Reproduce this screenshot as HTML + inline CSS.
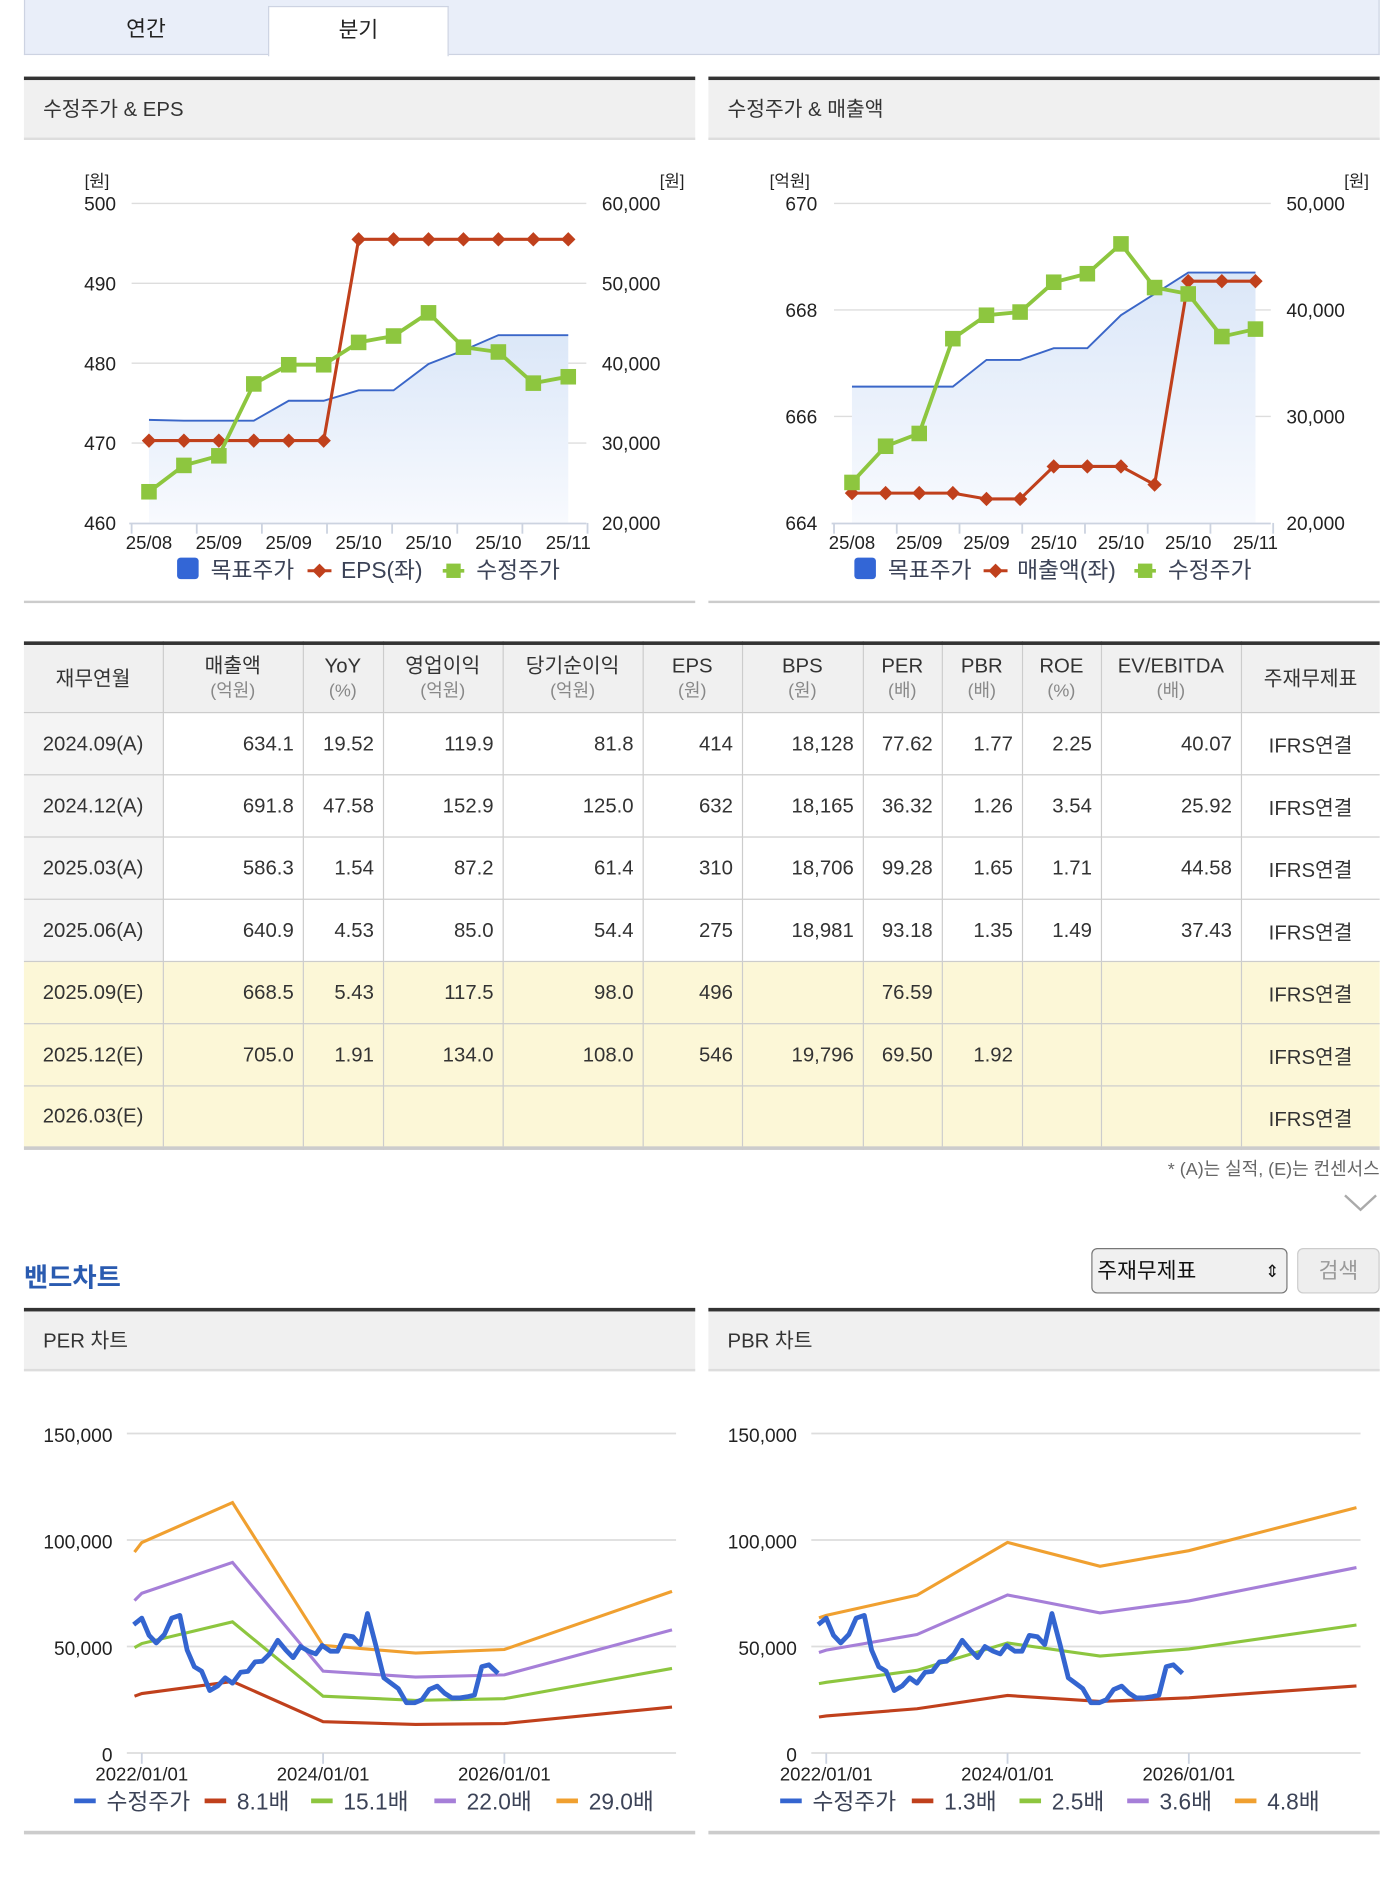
<!DOCTYPE html>
<html><head><meta charset="utf-8">
<style>
*{box-sizing:border-box;margin:0;padding:0}
html,body{width:1400px;height:1880px;overflow:hidden;background:#fff}
body{font-family:"Liberation Sans","Noto Sans CJK KR",sans-serif;color:#333}
#wrap{position:absolute;left:0;top:0;width:1170px;height:1571px;transform-origin:0 0;transform:scale(1.1966,1.1966)}
.abs{position:absolute}
.tabbar{left:20px;top:0;width:1133px;height:46px;background:#e9eef9;border:1px solid #cdd3e2;border-top:none}
.tab{top:5px;height:41px;font-size:18px;text-align:center;line-height:38px;color:#222}
.panel-top{height:3px;background:#333}
.panel-head{height:50px;background:#f0f0f0;border-bottom:2px solid #ddd;font-size:17px;line-height:50px;padding-left:16px;color:#333}
table{border-collapse:collapse;position:absolute;left:20px;top:536px;width:1133px;table-layout:fixed;border-top:3px solid #333;border-bottom:3px solid #ccc}
th,td{border:1px solid #ccc;font-size:17px;font-weight:normal;height:52px}
th{background:#f0f0f0;height:58px;line-height:21px;color:#333}
th span{display:block;font-size:15px;color:#888}
tr th:first-child,tr td:first-child{border-left:none}
tr th:last-child,tr td:last-child{border-right:none}
td{text-align:right;padding-right:7px;color:#333}
td.d{text-align:center;padding:0;background:#f4f4f4}
td.f{text-align:center;padding:0}
tr.e td{background:#fcf7d7}
</style></head><body>
<div id="wrap">
<div class="abs tabbar"></div>
<div class="abs tab" style="left:20px;width:204px">연간</div>
<div class="abs tab" style="left:224px;width:151px;background:#fff;border:1px solid #cdd3e2;border-bottom:none;height:42px">분기</div>

<div class="abs panel-top" style="left:20px;top:64px;width:561px"></div>
<div class="abs panel-head" style="left:20px;top:67px;width:561px">수정주가 &amp; EPS</div>
<div class="abs" style="left:20px;top:502px;width:561px;height:2px;background:#ccc"></div>
<div class="abs panel-top" style="left:592px;top:64px;width:561px"></div>
<div class="abs panel-head" style="left:592px;top:67px;width:561px">수정주가 &amp; 매출액</div>
<div class="abs" style="left:592px;top:502px;width:561px;height:2px;background:#ccc"></div>

<table>
<colgroup><col style="width:116px"><col style="width:117px"><col style="width:67px"><col style="width:100px"><col style="width:117px"><col style="width:83px"><col style="width:101px"><col style="width:66px"><col style="width:67px"><col style="width:66px"><col style="width:117px"><col style="width:116px"></colgroup>
<tr><th>재무연월</th><th>매출액<span>(억원)</span></th><th>YoY<span>(%)</span></th><th>영업이익<span>(억원)</span></th><th>당기순이익<span>(억원)</span></th><th>EPS<span>(원)</span></th><th>BPS<span>(원)</span></th><th>PER<span>(배)</span></th><th>PBR<span>(배)</span></th><th>ROE<span>(%)</span></th><th>EV/EBITDA<span>(배)</span></th><th>주재무제표</th></tr>
<tr><td class="d">2024.09(A)</td><td>634.1</td><td>19.52</td><td>119.9</td><td>81.8</td><td>414</td><td>18,128</td><td>77.62</td><td>1.77</td><td>2.25</td><td>40.07</td><td class="f">IFRS연결</td></tr>
<tr><td class="d">2024.12(A)</td><td>691.8</td><td>47.58</td><td>152.9</td><td>125.0</td><td>632</td><td>18,165</td><td>36.32</td><td>1.26</td><td>3.54</td><td>25.92</td><td class="f">IFRS연결</td></tr>
<tr><td class="d">2025.03(A)</td><td>586.3</td><td>1.54</td><td>87.2</td><td>61.4</td><td>310</td><td>18,706</td><td>99.28</td><td>1.65</td><td>1.71</td><td>44.58</td><td class="f">IFRS연결</td></tr>
<tr><td class="d">2025.06(A)</td><td>640.9</td><td>4.53</td><td>85.0</td><td>54.4</td><td>275</td><td>18,981</td><td>93.18</td><td>1.35</td><td>1.49</td><td>37.43</td><td class="f">IFRS연결</td></tr>
<tr class="e"><td class="d">2025.09(E)</td><td>668.5</td><td>5.43</td><td>117.5</td><td>98.0</td><td>496</td><td></td><td>76.59</td><td></td><td></td><td></td><td class="f">IFRS연결</td></tr>
<tr class="e"><td class="d">2025.12(E)</td><td>705.0</td><td>1.91</td><td>134.0</td><td>108.0</td><td>546</td><td>19,796</td><td>69.50</td><td>1.92</td><td></td><td></td><td class="f">IFRS연결</td></tr>
<tr class="e"><td class="d">2026.03(E)</td><td></td><td></td><td></td><td></td><td></td><td></td><td></td><td></td><td></td><td></td><td class="f">IFRS연결</td></tr>
</table>
<div class="abs" style="right:17px;top:966px;font-size:15px;color:#666">* (A)는 실적, (E)는 컨센서스</div>
<svg class="abs" style="left:1122px;top:996px" width="30" height="18"><polyline points="2,3 15,15 28,3" fill="none" stroke="#aaa" stroke-width="2"/></svg>

<div class="abs" style="left:20px;top:1050px;font-size:22px;font-weight:bold;color:#2a5bb0">밴드차트</div>
<div class="abs" style="left:912px;top:1043px;width:164px;height:38px;border:1px solid #777;border-radius:5px;background:#f0f0f0;font-size:18px;line-height:36px;padding-left:4px;color:#111">주재무제표<span style="position:absolute;right:6px;top:0;font-size:14px">⇕</span></div>
<div class="abs" style="left:1084px;top:1043px;width:69px;height:38px;border:1px solid #ccc;border-radius:5px;background:#eee;font-size:18px;line-height:36px;text-align:center;color:#999">검색</div>

<div class="abs panel-top" style="left:20px;top:1093px;width:561px"></div>
<div class="abs panel-head" style="left:20px;top:1096px;width:561px">PER 차트</div>
<div class="abs" style="left:20px;top:1530px;width:561px;height:3px;background:#ccc"></div>
<div class="abs panel-top" style="left:592px;top:1093px;width:561px"></div>
<div class="abs panel-head" style="left:592px;top:1096px;width:561px">PBR 차트</div>
<div class="abs" style="left:592px;top:1530px;width:561px;height:3px;background:#ccc"></div>

<svg id="ov" class="abs" style="left:0;top:0" width="1170" height="1571">
<defs><linearGradient id="ag" x1="0" y1="0" x2="0" y2="1"><stop offset="0" stop-color="#dbe7f8"/><stop offset="1" stop-color="#f8fafe"/></linearGradient></defs>
</svg>
</div>
<script>
// ---- Chart 1: 수정주가 & EPS ----
const c1Labels = ['25/08','25/09','25/09','25/10','25/10','25/10','25/11'];
const c1Eps = [470.3,470.3,470.3,470.3,470.3,470.3,495.5,495.5,495.5,495.5,495.5,495.5,495.5];
const c1Price = [23900,27200,28400,37400,39800,39800,42600,43400,46300,42000,41400,37500,38300];
const c1Target = [32900,32800,32800,32800,35300,35300,36600,36600,39900,41600,43500,43500,43500];
const c1LeftTicks = [500,490,480,470,460];
const c1RightTicks = ['60,000','50,000','40,000','30,000','20,000'];
// ---- Chart 2: 수정주가 & 매출액 ----
const c2Labels = ['25/08','25/09','25/09','25/10','25/10','25/10','25/11'];
const c2Sales = [664.56,664.56,664.56,664.56,664.45,664.45,665.06,665.06,665.06,664.72,668.54,668.54,668.54];
const c2Price = [23800,27200,28400,37300,39500,39800,42600,43400,46200,42100,41500,37500,38200];
const c2Target = [32800,32800,32800,32800,35300,35300,36400,36400,39500,41500,43500,43500,43500];
const c2LeftTicks = [670,668,666,664];
const c2RightTicks = ['50,000','40,000','30,000','20,000'];
// ---- Band charts ----
const bandDates = [2021.92,2022.0,2023.0,2024.0,2025.02,2026.0,2027.85];
const per81 = [26700,27900,33600,14700,13400,13800,21600];
const per151 = [49500,51400,61600,26700,24700,25500,39700];
const per220 = [71600,75000,89500,38400,35700,36700,57800];
const per290 = [94300,98800,117600,50500,46900,48600,75900];
const pbr13 = [16900,17400,20800,27000,24200,25900,31500];
const pbr25 = [32600,33200,38800,51700,45500,48900,60100];
const pbr36 = [47200,48300,55600,74200,65800,71400,87100];
const pbr48 = [63500,64600,74100,98900,87700,95000,115200];
const priceDates = [2021.91,2022.00,2022.08,2022.16,2022.25,2022.33,2022.42,2022.50,2022.58,2022.66,2022.75,2022.84,2022.92,2023.00,2023.09,2023.17,2023.25,2023.33,2023.41,2023.50,2023.59,2023.67,2023.75,2023.84,2023.92,2023.99,2024.08,2024.16,2024.24,2024.33,2024.41,2024.49,2024.58,2024.67,2024.75,2024.83,2024.92,2025.01,2025.09,2025.17,2025.26,2025.34,2025.42,2025.51,2025.59,2025.67,2025.75,2025.83,2025.93];
const priceVals = [60300,63300,55200,51700,55700,63300,64600,48300,40500,38400,29300,31600,35300,32800,37900,38300,42800,43100,46500,52900,48300,44800,50000,47800,46500,50500,47800,47800,55200,54600,50900,65500,50900,35300,32800,30200,23600,23600,25000,29800,31400,28100,25900,25900,26400,27200,40500,41400,37400];
const bandTicks = ['150,000','100,000','50,000','0'];
const bandTickVals = [150000,100000,50000,0];
const bandXLabels = ['2022/01/01','2024/01/01','2026/01/01'];
const bandXVals = [2022,2024,2026];

const NS='http://www.w3.org/2000/svg';
const ov=document.getElementById('ov');
function mk(tag,attrs,parent){const e=document.createElementNS(NS,tag);for(const k in attrs)e.setAttribute(k,attrs[k]);(parent||ov).appendChild(e);return e;}
function txt(x,y,s,anchor,size,color){const t=mk('text',{x:x,y:y,'text-anchor':anchor,'font-size':size,fill:color,'font-family':'"Liberation Sans","Noto Sans CJK KR",sans-serif'});t.textContent=s;return t;}
function pathD(pts){return pts.map((p,i)=>(i?'L':'M')+p[0].toFixed(1)+','+p[1].toFixed(1)).join(' ');}

function comboChart(o){
  const g=mk('g',{});
  
  
  const yL=v=>170+(o.lmax-v)/(o.lmax-o.lmin)*267;
  const yR=v=>170+(o.rmax-v)/(o.rmax-o.rmin)*267;
  const xI=i=>o.x0+i*o.dx;
  o.lticks.forEach((v,i)=>{
    const y=170+i*267/(o.lticks.length-1);
    if(i<o.lticks.length-1){const l=mk('line',{x1:o.gx0,x2:o.gx1,y1:y,y2:y,stroke:'#ddd','stroke-width':1.2},g);}
    const t=txt(o.lx,y+6,String(v),'end',16,'#222');g.appendChild(t);
    const t2=txt(o.rx,y+6,o.rticks[i],'start',16,'#222');g.appendChild(t2);
  });
  const u1=txt(o.ulx,156,o.lunit,'middle',14,'#222');g.appendChild(u1);
  const u2=txt(o.urx,156,'[원]','end',14,'#222');g.appendChild(u2);
  const tp=o.target.map((v,i)=>[xI(i),yR(v)]);
  const area=mk('path',{d:pathD(tp)+` L${xI(o.target.length-1)},437 L${xI(0)},437 Z`,fill:'url(#ag)'},g);
  
  const tl=mk('path',{d:pathD(tp),fill:'none',stroke:'#3a66c8','stroke-width':1.6},g);
  
  const ax=mk('line',{x1:o.gx0-2,x2:o.gx1,y1:437.5,y2:437.5,stroke:'#ccd3e0','stroke-width':1.5},g);
  
  for(let k=0;k<=7;k++){const tx=o.tick0+k*(o.tick1-o.tick0)/7;const tk=mk('line',{x1:tx,x2:tx,y1:437,y2:446,stroke:'#ccd3e0','stroke-width':1.5},g);}
  o.labels.forEach((s,k)=>{const tx=xI(2*k);const t=txt(tx,459,s,'middle',15.5,'#222');g.appendChild(t);});
  const rp=o.left.map((v,i)=>[xI(i),yL(v)]);
  const rl=mk('path',{d:pathD(rp),fill:'none',stroke:'#c0401c','stroke-width':2.6},g);
  
  rp.forEach(p=>{const m=mk('path',{d:`M${p[0]},${p[1]-6} L${p[0]+6},${p[1]} L${p[0]},${p[1]+6} L${p[0]-6},${p[1]} Z`,fill:'#c0401c'},g);});
  const gp=o.price.map((v,i)=>[xI(i),yR(v)]);
  const gl=mk('path',{d:pathD(gp),fill:'none',stroke:'#8dc63f','stroke-width':3.2},g);
  
  gp.forEach(p=>{const m=mk('rect',{x:p[0]-6.5,y:p[1]-6.5,width:13,height:13,fill:'#8dc63f'},g);});
  const lg=mk('g',{},g);
  const r1=mk('rect',{x:o.lg[0],y:466,width:18,height:18,rx:3,fill:'#3366d6'},lg);
  lg.appendChild(txt(o.lg[0]+28,483,'목표주가','start',19,'#3c4357'));
  mk('line',{x1:o.lg[1],x2:o.lg[1]+20,y1:477,y2:477,stroke:'#c0401c','stroke-width':2.5},lg);
  const dm=mk('path',{d:`M${o.lg[1]+10},471 L${o.lg[1]+16},477 L${o.lg[1]+10},483 L${o.lg[1]+4},477 Z`,fill:'#c0401c'},lg);
  lg.appendChild(txt(o.lg[1]+28,483,o.leftLabel,'start',19,'#3c4357'));
  mk('line',{x1:o.lg[2],x2:o.lg[2]+18,y1:477,y2:477,stroke:'#8dc63f','stroke-width':3},lg);
  const sq=mk('rect',{x:o.lg[2]+3,y:471,width:12,height:12,fill:'#8dc63f'},lg);
  lg.appendChild(txt(o.lg[2]+28,483,'수정주가','start',19,'#3c4357'));
}
comboChart({name:'eps-chart',lmin:460,lmax:500,rmin:20000,rmax:60000,lticks:c1LeftTicks,rticks:c1RightTicks,left:c1Eps,price:c1Price,target:c1Target,labels:c1Labels,
  x0:124.5,dx:29.2,gx0:110,gx1:490,lx:97,rx:503,ulx:81,urx:572,lunit:'[원]',tick0:110,tick1:491,leftName:'eps',leftLabel:'EPS(좌)',lg:[148,257,370]});
comboChart({name:'sales-chart',lmin:664,lmax:670,rmin:20000,rmax:50000,lticks:c2LeftTicks,rticks:c2RightTicks,left:c2Sales,price:c2Price,target:c2Target,labels:c2Labels,
  x0:712,dx:28.1,gx0:697,gx1:1062,lx:683,rx:1075,ulx:660,urx:1144,lunit:'[억원]',tick0:697,tick1:1064,leftName:'sales',leftLabel:'매출액(좌)',lg:[714,822,948]});

function bandChart(o){
  const g=mk('g',{});
  
  
  const xD=d=>o.x2022+(d-2022)*75.75;
  const yV=v=>1465-v/150000*267;
  bandTickVals.forEach((v,i)=>{
    const y=yV(v);
    const l=mk('line',{x1:o.gx0,x2:o.gx1,y1:y,y2:y,stroke:'#ddd','stroke-width':1.5},g);
    const t=txt(o.lx,y+7,bandTicks[i],'end',16,'#222');g.appendChild(t);
  });
  bandXVals.forEach((d,i)=>{
    const x=xD(d);
    const tk=mk('line',{x1:x,x2:x,y1:1465,y2:1474,stroke:'#ccd3e0','stroke-width':1.5},g);
    const t=txt(x,1488,bandXLabels[i],'middle',15.5,'#222');g.appendChild(t);
  });
  const colors=['#c0401c','#8dc63f','#a67fd8','#f0a030'];
  o.bands.forEach((arr,k)=>{
    const p=mk('path',{d:pathD(arr.map((v,i)=>[xD(bandDates[i]),yV(v)])),fill:'none',stroke:colors[k],'stroke-width':2.6},g);
    
    
  });
  const pl=mk('path',{d:pathD(priceVals.map((v,i)=>[xD(priceDates[i]),yV(v)])),fill:'none',stroke:'#3465d0','stroke-width':4,'stroke-linejoin':'round'},g);
  
  
  const lc=['#3465d0'].concat(colors);
  const ll=['수정주가'].concat(o.bandLabels);
  o.lg.forEach((x,k)=>{
    const sw=mk('line',{x1:x,x2:x+18,y1:1505,y2:1505,stroke:lc[k],'stroke-width':4},g);
    
    
    const t=txt(x+27,1512,ll[k],'start',19,'#3c4357');
    
    
    g.appendChild(t);
  });
}
bandChart({name:'per-band-chart',x2022:118.5,gx0:106,gx1:565,lx:94,bands:[per81,per151,per220,per290],bandLabels:['8.1배','15.1배','22.0배','29.0배'],lg:[62,171,260,363,465]});
bandChart({name:'pbr-band-chart',x2022:690.5,gx0:678,gx1:1137,lx:666,bands:[pbr13,pbr25,pbr36,pbr48],bandLabels:['1.3배','2.5배','3.6배','4.8배'],lg:[652,762,852,942,1032]});
</script>
</body></html>
